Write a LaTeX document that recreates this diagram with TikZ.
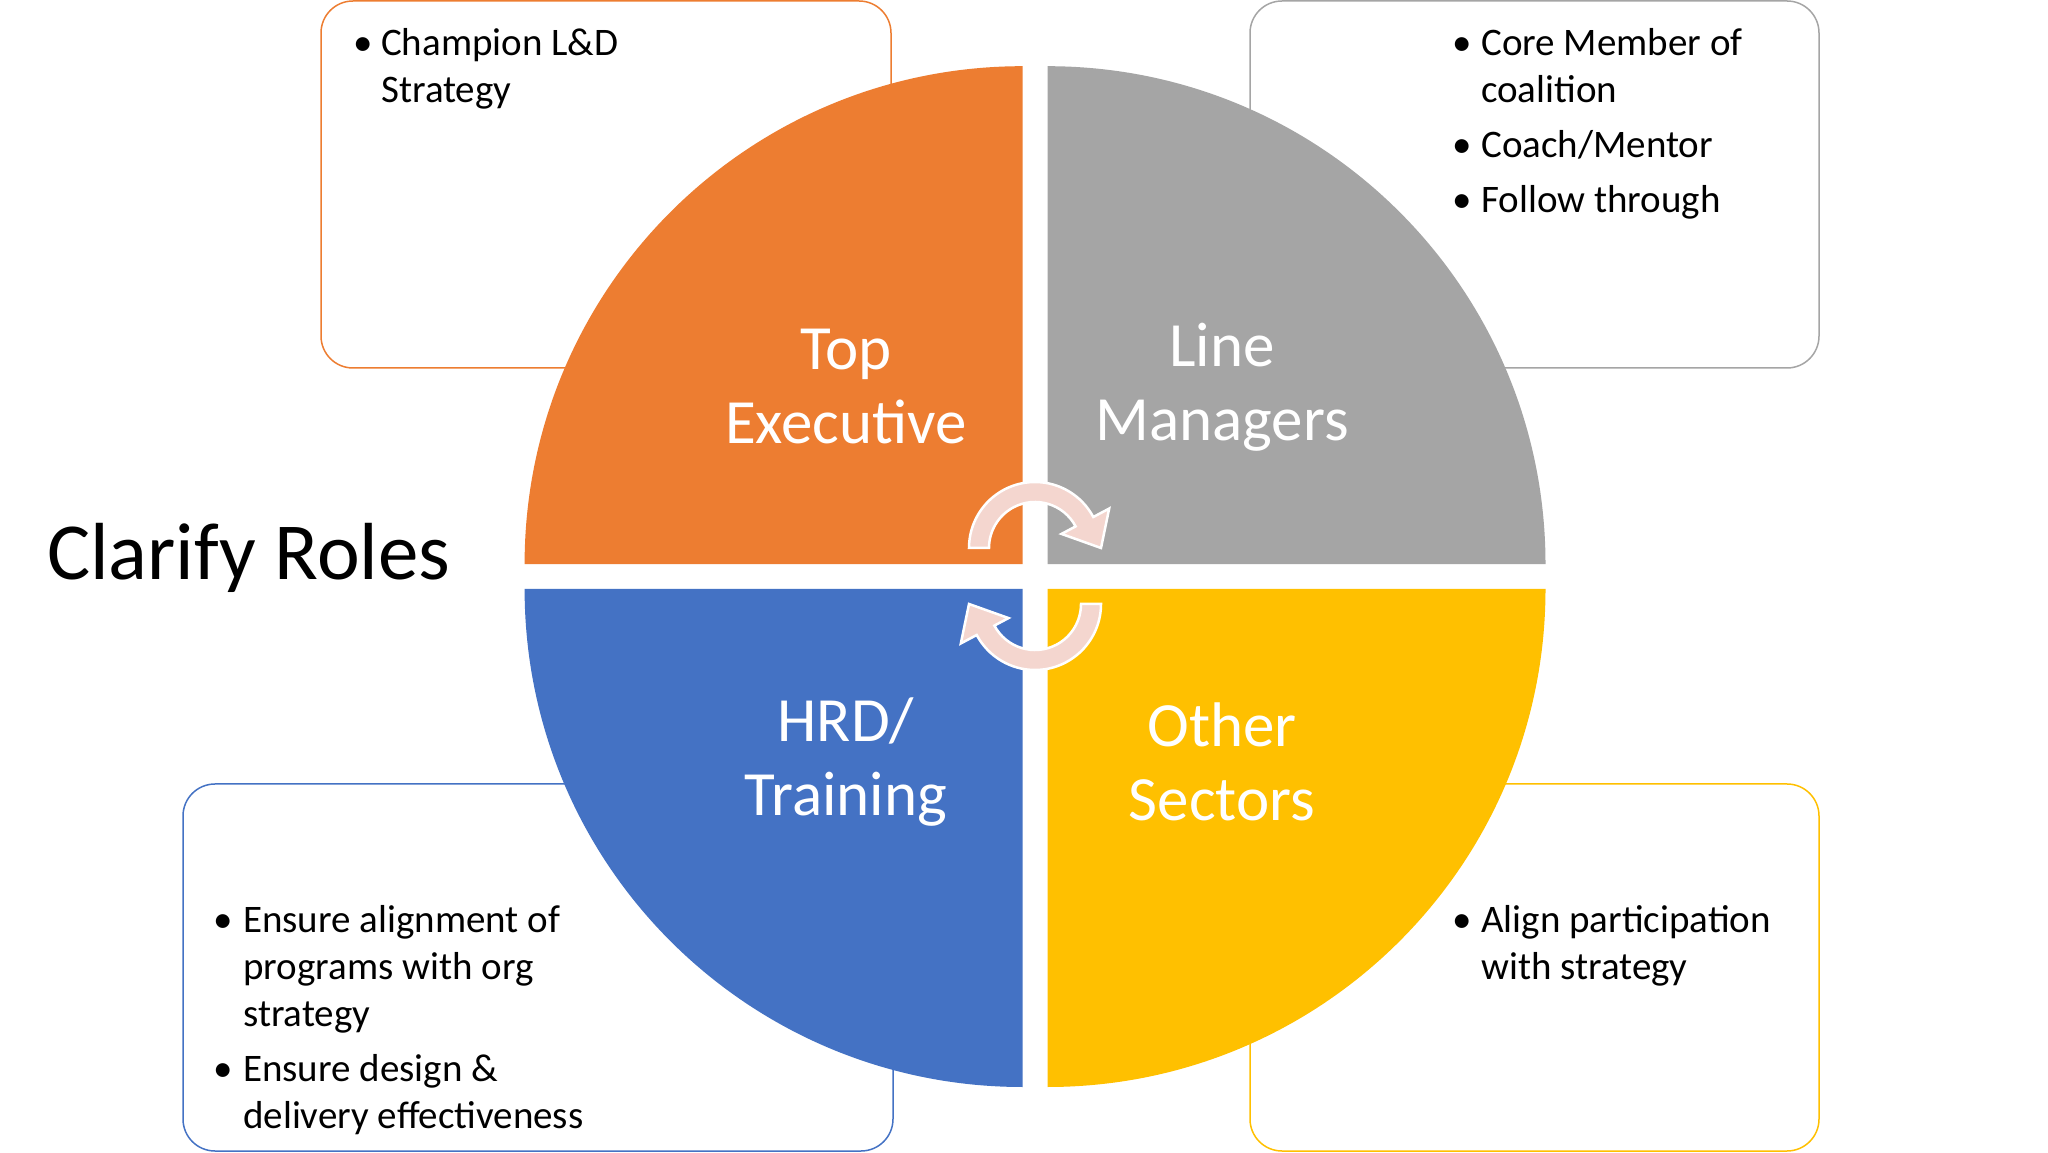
\documentclass[tikz,border=0pt]{standalone}
\usepackage{fontspec}
\setmainfont{Carlito}
\usetikzlibrary{calc}
\definecolor{qorange}{HTML}{ED7D31}
\definecolor{qgray}{HTML}{A5A5A5}
\definecolor{qblue}{HTML}{4472C4}
\definecolor{qyellow}{HTML}{FFC000}
\definecolor{arrowpink}{HTML}{F4D6CF}
\tikzset{
  infobox/.style={rounded corners=32pt, line width=1.5pt, fill=white},
  btxt/.style={anchor=base west, inner sep=0pt, font=\fontsize{39}{47}\selectfont},
  bdot/.style={anchor=base west, inner sep=0pt, font=\fontsize{39}{47}\selectfont},
  qlabel/.style={text=white, align=center, font=\fontsize{63}{74}\selectfont},
  cyc/.style={fill=arrowpink, draw=white, line width=2.5pt, line join=miter}
}
\begin{document}
\begin{tikzpicture}[x=1pt,y=1pt]
\useasboundingbox (0,0) rectangle (2048,1152);
\fill[white] (0,0) rectangle (2048,1152);
% boxes
\draw[infobox, draw=qorange] (321,784) rectangle (891,1151);
\draw[infobox, draw=qgray] (1250,784) rectangle (1819,1151);
\draw[infobox, draw=qblue] (183,1) rectangle (893,368);
\draw[infobox, draw=qyellow] (1250,1) rectangle (1819,368);
% quadrants
\fill[qorange] (1022.6,587.8) -- ++(-498,0) arc (180:90:498) -- cycle;
\fill[qgray] (1047.5,587.8) -- ++(0,498) arc (90:0:498) -- cycle;
\fill[qblue] (1022.6,563) -- ++(-498,0) arc (180:270:498) -- cycle;
\fill[qyellow] (1047.5,563) -- ++(498,0) arc (0:-90:498) -- cycle;
% labels
\node[qlabel] (te) at (846,765) {Top\\Executive};
\node[qlabel] (lm) at (1222,765) {Line\\Managers};
\node[qlabel] (hrd) at (846,390) {HRD/\\Training};
\node[qlabel] (os) at (1222,390) {Other\\Sectors};
\node[anchor=west, inner sep=0pt, font=\fontsize{81}{90}\selectfont] (title) at (47,594) {Clarify Roles};
% cycle arrows
\coordinate (cc) at (1035,576);
\foreach \r in {0,180}{
\begin{scope}[rotate around={\r:(cc)}]
\draw[cyc] (1035,604) ++(180:66) arc (180:28:66)
  -- ($(1035,604)+(28:84)$) -- (1101,604) -- ($(1035,604)+(28:30)$)
  -- ($(1035,604)+(28:46)$) arc (28:180:46) -- cycle;
\end{scope}}
% bullets orange
\node[bdot] (o1d) at (353,1096) {•};
\node[btxt] (o1) at (381,1096) {Champion L\&D};
\node[btxt] (o2) at (381,1049) {Strategy};
% gray
\node[bdot] (g1d) at (1452,1096) {•};
\node[btxt] (g1) at (1481,1096) {Core Member of};
\node[btxt] (g2) at (1481,1049) {coalition};
\node[bdot] (g3d) at (1452,994) {•};
\node[btxt] (g3) at (1481,994) {Coach/Mentor};
\node[bdot] (g4d) at (1452,939) {•};
\node[btxt] (g4) at (1481,939) {Follow through};
% blue
\node[bdot] (b1d) at (213,220) {•};
\node[btxt] (b1) at (243,220) {Ensure alignment of};
\node[btxt] (b2) at (243,173) {programs with org};
\node[btxt] (b3) at (243,126) {strategy};
\node[bdot] (b4d) at (213,71) {•};
\node[btxt] (b4) at (243,71) {Ensure design \&};
\node[btxt] (b5) at (243,24) {delivery effectiveness};
% yellow
\node[bdot] (y1d) at (1452,220) {•};
\node[btxt] (y1) at (1481,220) {Align participation};
\node[btxt] (y2) at (1481,173) {with strategy};
\end{tikzpicture}
\end{document}
